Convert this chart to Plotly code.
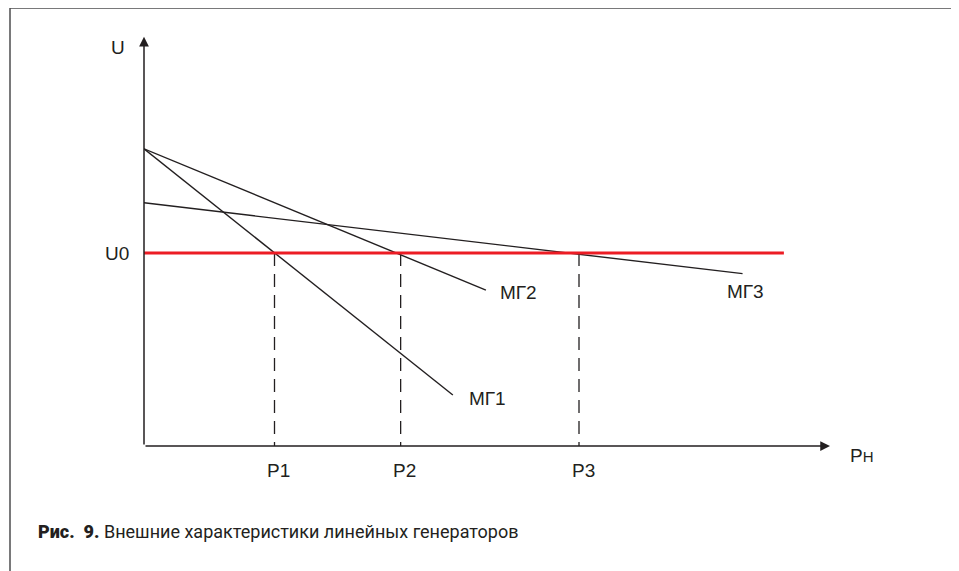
import plotly.graph_objects as go

# ---- data (arbitrary units) ----
p_labels = ["P1", "P2", "P3"]
p_values = [3.0, 5.9, 10.0]
u0_value = 1.0
u0_line_end = 14.71

curve_names = ["МГ1", "МГ2", "МГ3"]
curve_x_start = [0.0, 0.0, 0.0]
curve_u_start = [1.54, 1.54, 1.26]
curve_x_end = [7.10, 7.86, 13.76]
curve_u_end = [0.264, 0.808, 0.893]

x_axis_max = 15.77
y_axis_max = 2.12

caption_bold = "Рис.&nbsp;&nbsp;9."
caption_text = "Внешние характеристики линейных генераторов"

# ---- figure ----
W, H = 959, 571
OFF = 8  # page body margin
L, T = 144 - OFF, 20 - OFF
B = H - (446 - OFF)
x_px_per_unit = 43.5
y_px_per_unit = 193.0
R = W - L - 800
plot_w = W - L - R
plot_h = H - T - B
x_range = [0, plot_w / x_px_per_unit]
y_range = [0, plot_h / y_px_per_unit]

def px_x(p):  # screen px -> paper fraction
    return (p - OFF - L) / plot_w

def px_y(p):
    return (H - (p - OFF) - B) / plot_h

FONT = "Liberation Sans, Arial, sans-serif"
fig = go.Figure()

for i in range(3):
    fig.add_trace(go.Scatter(
        x=[curve_x_start[i], curve_x_end[i]],
        y=[curve_u_start[i], curve_u_end[i]],
        mode="lines", line=dict(color="#231f20", width=1.4),
        hoverinfo="skip", showlegend=False))

for pv in p_values:
    fig.add_trace(go.Scatter(
        x=[pv, pv], y=[u0_value, 0],
        mode="lines", line=dict(color="#231f20", width=1.3, dash="13px,8px"),
        hoverinfo="skip", showlegend=False))

fig.add_trace(go.Scatter(
    x=[0, u0_line_end], y=[u0_value, u0_value],
    mode="lines", line=dict(color="#ec1c24", width=3),
    hoverinfo="skip", showlegend=False))

ann = []
ann.append(dict(x=x_axis_max, y=0, ax=0, ay=0, xref="x", yref="y", axref="x", ayref="y",
                showarrow=True, arrowhead=2, arrowsize=1.3, arrowwidth=1.5,
                arrowcolor="#231f20", text=""))
ann.append(dict(x=0, y=y_axis_max, ax=0, ay=0, xref="x", yref="y", axref="x", ayref="y",
                showarrow=True, arrowhead=2, arrowsize=1.3, arrowwidth=1.5,
                arrowcolor="#231f20", text=""))

lab_font = dict(family=FONT, size=19, color="#231f20")
lab_x = [7.43, 8.14, 13.36]
lab_y = [0.244, 0.793, 0.798]
for name, lx, ly in zip(curve_names, lab_x, lab_y):
    ann.append(dict(x=lx, y=ly, xref="x", yref="y", text=name, showarrow=False,
                    xanchor="left", yanchor="middle", font=lab_font))
for name, pv in zip(p_labels, p_values):
    ann.append(dict(x=pv, y=0, xref="x", yref="y", text=name, showarrow=False,
                    xanchor="center", yanchor="middle", xshift=4, yshift=-24, font=lab_font))
ann.append(dict(x=0, y=u0_value, xref="x", yref="y", text="U0", showarrow=False,
                xanchor="right", yanchor="middle", xshift=-13, font=lab_font))
ann.append(dict(x=0, y=y_axis_max, xref="x", yref="y", text="U", showarrow=False,
                xanchor="right", yanchor="middle", xshift=-17, yshift=-11, font=lab_font))
ann.append(dict(x=x_axis_max, y=0, xref="x", yref="y", text="P<span style='font-size:15px'>Н</span>",
                showarrow=False, xanchor="left", yanchor="middle", xshift=18, yshift=-9,
                font=lab_font))

ann.append(dict(x=px_x(36), y=px_y(531), xref="paper", yref="paper",
                text="<span style='font-weight:900'>" + caption_bold + "</span> " + caption_text,
                showarrow=False, xanchor="left", yanchor="middle",
                font=dict(family="Roboto, sans-serif", size=18, color="#231f20")))

shapes = [dict(type="rect", xref="paper", yref="paper",
               x0=px_x(10), x1=px_x(956),
               y0=px_y(620), y1=px_y(8),
               line=dict(color="#4d4d4f", width=1.5), fillcolor="rgba(0,0,0,0)")]

fig.update_layout(
    width=W, height=H, margin=dict(l=L, r=R, t=T, b=B),
    paper_bgcolor="white", plot_bgcolor="white",
    xaxis=dict(range=x_range, visible=False, fixedrange=True),
    yaxis=dict(range=y_range, visible=False, fixedrange=True),
    annotations=ann, shapes=shapes, showlegend=False)

fig.write_html("out.html")
